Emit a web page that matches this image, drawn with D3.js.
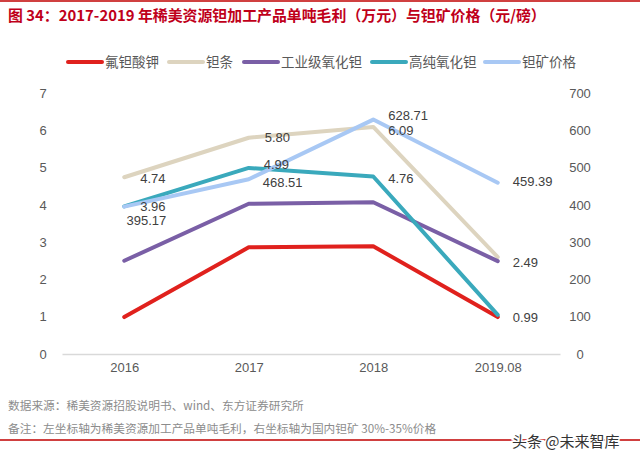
<!DOCTYPE html>
<html><head><meta charset="utf-8">
<script src="https://cdn.jsdelivr.net/npm/d3@7/dist/d3.min.js"></script>
<style>body{margin:0;background:#fff;}svg{display:block;font-family:"Noto Sans CJK SC","Noto Sans",sans-serif;}</style>
</head><body><svg id="c" width="640" height="451"></svg>
<script>
const categories = ["2016","2017","2018","2019.08"];
const seriesNames = ["氟钽酸钾","钽条","工业级氧化钽","高纯氧化钽","钽矿价格"];
const ktaf = [0.99, 2.86, 2.89, 0.99];
const bar = [4.74, 5.80, 6.09, 2.60];
const indOxide = [2.50, 4.03, 4.07, 2.49];
const pureOxide = [3.96, 4.99, 4.76, 1.05];
const orePrice = [395.17, 468.51, 628.71, 459.39];
const leftTicks = [0,1,2,3,4,5,6,7];
const rightTicks = [0,100,200,300,400,500,600,700];

const colors = ["#e0211d","#ddd4bf","#7a5fa6","#3aa9bc","#a8c8f4"];
const seriesData = [ktaf, bar, indOxide, pureOxide, orePrice];
const axisOf = ["L","L","L","L","R"];
// which points get labels: [seriesIndex, pointIndex, dx, dy, anchor]
const labelSpec = [
  [1,0,16,1,"start"],[1,1,16,0,"start"],[1,2,15,4,"start"],
  [3,0,16,0,"start"],[3,1,15,-3,"start"],[3,2,15,2,"start"],
  [4,0,42,14,"end"],[4,1,14,3,"start"],[4,2,15,-4,"start"],[4,3,15,-1,"start"],
  [2,3,15,1,"start"],[0,3,15,0,"start"]
];

const svg = d3.select("#c");
const x = d3.scalePoint().domain(categories).range([62,560]).padding(0.5);
const yL = d3.scaleLinear().domain([0,7]).range([354,93]);
const yR = d3.scaleLinear().domain([0,700]).range([354,93]);

// top red rule
svg.append("line").attr("x1",0).attr("x2",640).attr("y1",1).attr("y2",1).attr("stroke","#c00000").attr("stroke-width",1.5);
// title
svg.append("text").attr("x",8).attr("y",21).attr("fill","#c0001a").attr("font-size",14.9).attr("font-weight","bold")
  .text("图 34：2017-2019 年稀美资源钽加工产品单吨毛利（万元）与钽矿价格（元/磅）");

// legend
const legX = [68,169,244,372,485];
seriesNames.forEach((n,i)=>{
  const g = svg.append("g").attr("transform",`translate(${legX[i]},62)`);
  g.append("line").attr("x1",0).attr("x2",34).attr("y1",0).attr("y2",0).attr("stroke",colors[i]).attr("stroke-width",4).attr("stroke-linecap","round");
  g.append("text").attr("x",37).attr("y",5).attr("font-size",13.5).attr("fill","#595959").text(n);
});

// axes
const axL = svg.append("g").attr("transform","translate(50,0)").call(d3.axisLeft(yL).tickValues(leftTicks).tickSize(0).tickPadding(0).tickFormat(d3.format("d")));
const axR = svg.append("g").attr("transform","translate(571,0)").call(d3.axisRight(yR).tickValues(rightTicks).tickSize(0).tickPadding(0).tickFormat(d3.format("d")));
[axL,axR].forEach(a=>{a.select(".domain").remove();a.selectAll("text").attr("font-size",13).attr("fill","#595959").attr("font-family","Liberation Sans, Arial, sans-serif");});
axL.selectAll("text").attr("text-anchor","middle").attr("dx",-7);
axR.selectAll("text").attr("text-anchor","middle").attr("dx",9);

const axB = svg.append("g").attr("transform","translate(0,354)").call(d3.axisBottom(x).tickSize(0).tickPadding(9));
axB.select(".domain").attr("stroke","#d9d9d9").attr("stroke-width",1.5);
axB.selectAll("text").attr("font-size",13).attr("fill","#595959").attr("font-family","Liberation Sans, Arial, sans-serif");

// lines
seriesData.forEach((d,i)=>{
  const y = axisOf[i]==="L"?yL:yR;
  const line = d3.line().x((v,j)=>x(categories[j])).y(v=>y(v));
  svg.append("path").datum(d).attr("d",line).attr("fill","none").attr("stroke",colors[i]).attr("stroke-width",4).attr("stroke-linejoin","round").attr("stroke-linecap","round");
});

// labels
labelSpec.forEach(([s,p,dx,dy,anc])=>{
  const y = axisOf[s]==="L"?yL:yR;
  const v = seriesData[s][p];
  svg.append("text").attr("x",x(categories[p])+dx).attr("y",y(v)+dy).attr("dy","0.35em")
    .attr("text-anchor",anc).attr("font-size",13).attr("fill","#404040").attr("font-family","Liberation Sans, Arial, sans-serif")
    .text(v.toFixed(2));
});

// footer
svg.append("text").attr("x",8).attr("y",410).attr("font-size",11.7).attr("fill","#8c8c8c").text("数据来源：稀美资源招股说明书、wind、东方证券研究所");
svg.append("text").attr("x",8).attr("y",433).attr("font-size",11.7).attr("fill","#8c8c8c").text("备注：左坐标轴为稀美资源加工产品单吨毛利，右坐标轴为国内钽矿 30%-35%价格");
svg.append("line").attr("x1",0).attr("x2",640).attr("y1",440).attr("y2",440).attr("stroke","#c00000").attr("stroke-width",1.5);
svg.append("text").attr("x",512).attr("y",447).attr("font-size",15).attr("fill","#333").attr("stroke","#fff").attr("stroke-width",3).attr("paint-order","stroke").text("头条 @未来智库");
</script></body></html>
